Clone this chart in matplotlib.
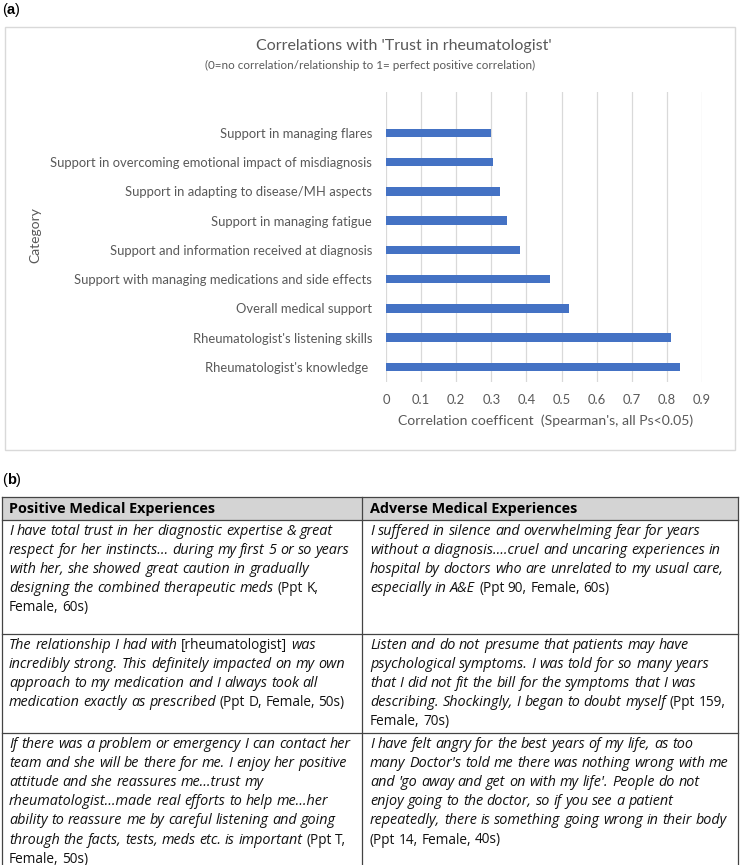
import re
import numpy as np
import matplotlib.pyplot as plt
from matplotlib.patches import Rectangle

plt.rcParams['font.family'] = ['Lato', 'DejaVu Sans']

### Data (a) : correlations with trust in rheumatologist
categories = ["Rheumatologist's knowledge ",
              "Rheumatologist's listening skills",
              "Overall medical support",
              "Support with managing medications and side effects",
              "Support and information received at diagnosis",
              "Support in managing fatigue",
              "Support in adapting to disease/MH aspects",
              "Support in overcoming emotional impact of misdiagnosis",
              "Support in managing flares"]
correlations = [0.838, 0.812, 0.520, 0.468, 0.381, 0.346, 0.326, 0.305, 0.299]
xtick_values = [0, 0.1, 0.2, 0.3, 0.4, 0.5, 0.6, 0.7, 0.8, 0.9]
xtick_labels = ['0', '0.1', '0.2', '0.3', '0.4', '0.5', '0.6', '0.7', '0.8', '0.9']

### Data (b) : quotes, {...} = upright text, rest italic
headers = ["Positive Medical Experiences", "Adverse Medical Experiences"]
positive_quotes = [
    ["I have total trust in her diagnostic expertise & great",
     "respect for her instincts\u2026 during my first 5 or so years",
     "with her, she showed great caution in gradually",
     "designing the combined therapeutic meds {(Ppt K,}",
     "{Female, 60s)}"],
    ["The relationship I had with {[rheumatologist]} was",
     "incredibly strong. This definitely impacted on my own",
     "approach to my medication and I always took all",
     "medication exactly as prescribed {(Ppt D, Female, 50s)}"],
    ["If there was a problem or emergency I can contact her",
     "team and she will be there for me. I enjoy her positive",
     "attitude and she reassures me\u2026trust my",
     "rheumatologist\u2026made real efforts to help me\u2026her",
     "ability to reassure me by careful listening and going",
     "through the facts, tests, meds etc. is important {(Ppt T,}",
     "{Female, 50s)}"],
]
adverse_quotes = [
    ["I suffered in silence and overwhelming fear for years",
     "without a diagnosis\u2026.cruel and uncaring experiences in",
     "hospital by doctors who are unrelated to my usual care,",
     "especially in A&E {(Ppt 90, Female, 60s)}"],
    ["Listen and do not presume that patients may have",
     "psychological symptoms. I was told for so many years",
     "that I did not fit the bill for the symptoms that I was",
     "describing. Shockingly, I began to doubt myself {(Ppt 159,}",
     "{Female, 70s)}"],
    ["I have felt angry for the best years of my life, as too",
     "many Doctor's told me there was nothing wrong with me",
     "and 'go away and get on with my life'. People do not",
     "enjoy going to the doctor, so if you see a patient",
     "repeatedly, there is something going wrong in their body",
     "{(Ppt 14, Female, 40s)}"],
]

W, H = 740, 865
fig = plt.figure(figsize=(W / 100, H / 100), dpi=100)
fig.patch.set_facecolor('white')

# background axes in pixel coordinates
ax0 = fig.add_axes([0, 0, 1, 1], zorder=0)
ax0.set_xlim(0, W)
ax0.set_ylim(H, 0)
ax0.axis('off')
renderer = fig.canvas.get_renderer()


def width_of(t):
    return t.get_window_extent(renderer).width


def measure(s, **kw):
    t = ax0.text(0, 0, s, **kw)
    w = width_of(t)
    t.remove()
    return w


def put_label(x, y, letter):
    # "(a)" with bold letter
    kw = dict(fontsize=10.5, family='Liberation Sans', va='center', ha='left', color='black')
    t = ax0.text(x, y, "(", **kw)
    x += width_of(t)
    t = ax0.text(x, y, letter, fontweight='bold', **kw)
    x += width_of(t)
    ax0.text(x, y, ")", **kw)


# table font, sizes matched to the widths of the printed table
tfam = 'Open Sans'
sizes = {
    'italic': 9 * 325 / measure(positive_quotes[0][0], fontsize=9, style='italic', family=tfam),
    'normal': 9 * 126 / measure("(Ppt D, Female, 50s)", fontsize=9, family=tfam),
}
head_size = 9 * 206 / measure(headers[0], fontsize=9, fontweight='bold', family=tfam)
space_w = {}
for st in sizes:
    space_w[st] = (measure("x x", fontsize=sizes[st], style=st, family=tfam)
                   - measure("xx", fontsize=sizes[st], style=st, family=tfam))


def draw_line(x, y, line):
    words = []
    for part in re.split(r'(\{[^}]*\})', line):
        if not part:
            continue
        st = 'normal' if part.startswith('{') else 'italic'
        for w in part.strip('{}').split():
            words.append((w, st))
    cx = x
    for w, st in words:
        t = ax0.text(cx, y, w, fontsize=sizes[st], style=st, family=tfam,
                     va='baseline', ha='left', color='#111111')
        cx += width_of(t) + space_w[st]


### (a)
put_label(2, 10, 'a')
ax0.add_patch(Rectangle((5, 27), 730, 423, fill=False, ec='#d9d9d9', lw=1.0))
ax0.text(404, 46, "Correlations with 'Trust in rheumatologist'", fontsize=11.5,
         color='#595959', ha='center', va='center')
ax0.text(370, 65, "(0=no correlation/relationship to 1= perfect positive correlation)",
         fontsize=8.4, color='#595959', ha='center', va='center')
ax0.text(35, 235, "Category", fontsize=10, color='#595959', rotation=90,
         ha='center', va='center')
ax0.text(546, 421, "Correlation coefficent  (Spearman's, all Ps<0.05)", fontsize=10.1,
         color='#595959', ha='center', va='center')

ax_l, ax_r, ax_t, ax_b = 386, 702, 92, 381.6
ax = fig.add_axes([ax_l / W, 1 - ax_b / H, (ax_r - ax_l) / W, (ax_b - ax_t) / H], zorder=1)
ax.set_facecolor('none')
ypos = np.arange(len(categories))
ax.barh(ypos, correlations, height=0.29, color='#4472C4', zorder=3)
ax.set_xlim(0, 0.9)
ax.set_ylim(-0.5, 9.4)
ax.set_xticks(xtick_values)
ax.set_xticklabels(xtick_labels)
ax.set_yticks(ypos)
ax.set_yticklabels(categories)
ax.grid(axis='x', color='#d9d9d9', lw=0.9, zorder=0)
for s in ax.spines.values():
    s.set_visible(False)
ax.tick_params(axis='both', length=0, colors='#595959', labelsize=9.35)
ax.tick_params(axis='x', pad=9)
ax.tick_params(axis='y', pad=10)

### (b)
put_label(2, 480, 'b')
t_left, t_right, col_div = 2, 738, 362
y_top, y_head = 497, 520
row_bounds = [520, 634, 733, 866]
ax0.add_patch(Rectangle((t_left, y_top), t_right - t_left, y_head - y_top,
                        fc='#d4d4d4', ec='none'))
line_kw = dict(color='#444444', lw=0.9)
for yy in [y_top, y_head, row_bounds[1], row_bounds[2]]:
    ax0.plot([t_left, t_right], [yy, yy], **line_kw)
for xx in [t_left, col_div, t_right]:
    ax0.plot([xx, xx], [y_top, H], **line_kw)

for xh, txt in zip([9, 370], headers):
    ax0.text(xh, 508.5, txt, fontsize=head_size, fontweight='bold', family=tfam,
             va='center', ha='left', color='black')

line_h = 19.1
for r in range(3):
    y0 = row_bounds[r] + 11 + 4
    for i, ln in enumerate(positive_quotes[r]):
        draw_line(9, y0 + i * line_h, ln)
    for i, ln in enumerate(adverse_quotes[r]):
        draw_line(370, y0 + i * line_h, ln)

fig.savefig('out.png', dpi=100)
